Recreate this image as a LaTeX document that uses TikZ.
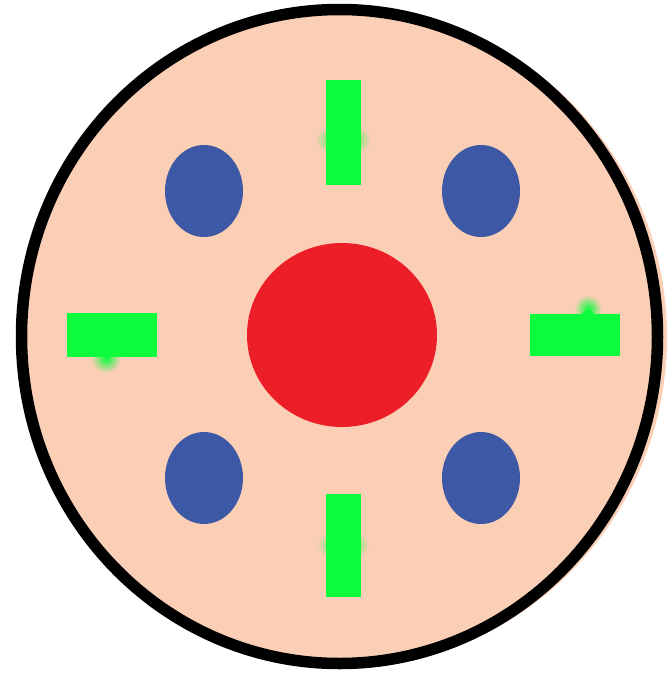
\documentclass[tikz,border=0pt]{standalone}
\begin{document}
\begin{tikzpicture}[x=1pt,y=-1pt]
    \definecolor{cellColour}{HTML}{FBCEB6}
    \definecolor{nucleusColour}{HTML}{EC1F28}
    \definecolor{blobColour}{HTML}{3D59A5}
    \definecolor{barColour}{HTML}{0CFC3D}

    \def\cellRx{318pt}
    \def\cellRy{327pt}

    \useasboundingbox (0,0) rectangle (670,673);

    \coordinate (C) at (339.5,336.5);
    \coordinate (N) at (342,335);

    % Draw cell
    \fill[cellColour] (343,337) ellipse [x radius=324pt, y radius=330pt];
    \draw[line width=11.5pt] (C) ellipse [x radius=\cellRx, y radius=\cellRy];

    % Glow round the bars
    \shade[inner color=barColour, outer color=cellColour] (343,140) ellipse [x radius=28pt, y radius=16pt];
    \shade[inner color=barColour, outer color=cellColour] (343,545) ellipse [x radius=26pt, y radius=16pt];
    \shade[inner color=barColour, outer color=cellColour] (106,358) circle (15pt);
    \shade[inner color=barColour, outer color=cellColour] (588,309) circle (14pt);

    % Bars
    \fill[barColour] (326,80) rectangle (361,185);
    \fill[barColour] (326,494) rectangle (361,597);
    \fill[barColour] (67,313) rectangle (157,357);
    \fill[barColour] (530,314) rectangle (620,356);
    \fill[barColour] (588,316) circle (6pt);

    % Blobs
    \foreach \x in {204,481}
        \foreach \y in {191,478}
            \fill[blobColour] (\x,\y) ellipse [x radius=39pt, y radius=46pt];

    % Nucleus
    \fill[nucleusColour] (N) ellipse [x radius=95pt, y radius=92pt];

\end{tikzpicture}
\end{document}
